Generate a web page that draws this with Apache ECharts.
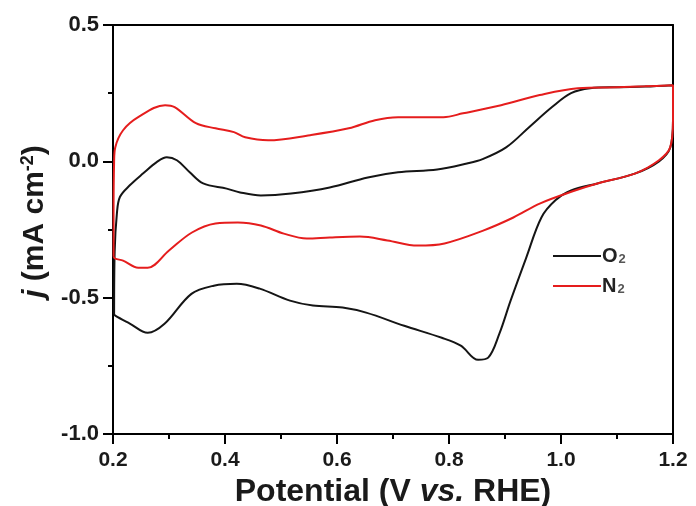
<!DOCTYPE html>
<html>
<head>
<meta charset="utf-8">
<script src="https://cdn.jsdelivr.net/npm/echarts@6/dist/echarts.min.js"></script>
<style>html,body{margin:0;padding:0;background:#fff}#c{width:696px;height:506px}</style>
</head>
<body>
<div id="c"></div>
<script>
// Potential (V vs. RHE) and current density j (mA cm-2), closed CV loops
var o2V = [0.202,0.203,0.207,0.2125,0.23,0.254,0.278,0.296,0.314,0.337,0.361,0.403,0.427,0.464,0.518,0.587,0.655,0.709,0.779,0.832,0.86,0.902,0.943,0.984,1.018,1.052,1.1,1.15,1.2,
           1.2,1.195,1.175,1.133,1.065,1.018,0.99,0.965,0.938,0.91,0.89,0.87,0.852,0.821,0.787,0.72,0.652,0.61,0.557,0.516,0.462,0.421,0.38,0.34,0.292,0.262,0.23,0.204,0.202];
var o2J = [-0.56,-0.33,-0.19,-0.13,-0.088,-0.044,-0.003,0.015,0.004,-0.04,-0.081,-0.1,-0.114,-0.125,-0.118,-0.096,-0.059,-0.04,-0.03,-0.008,0.008,0.051,0.125,0.199,0.25,0.268,0.272,0.274,0.279,
           0.15,0.05,0.0,-0.044,-0.081,-0.107,-0.143,-0.206,-0.353,-0.511,-0.632,-0.72,-0.728,-0.676,-0.647,-0.603,-0.555,-0.536,-0.529,-0.511,-0.467,-0.449,-0.456,-0.486,-0.596,-0.629,-0.595,-0.566,-0.56];
var n2V = [0.201,0.201,0.202,0.204,0.218,0.245,0.293,0.31,0.348,0.383,0.416,0.436,0.477,0.552,0.621,0.668,0.709,0.743,0.79,0.825,0.893,0.962,1.03,1.1,1.15,1.2,
           1.2,1.195,1.175,1.133,1.065,1.025,0.963,0.915,0.861,0.792,0.744,0.69,0.641,0.587,0.546,0.505,0.464,0.423,0.383,0.341,0.3,0.262,0.245,0.218,0.204,0.201];
var n2J = [-0.35,-0.2,0.0,0.051,0.114,0.162,0.206,0.199,0.14,0.121,0.107,0.088,0.077,0.096,0.121,0.151,0.162,0.162,0.162,0.176,0.206,0.243,0.268,0.272,0.275,0.279,
           0.151,0.051,0.004,-0.044,-0.081,-0.107,-0.154,-0.206,-0.254,-0.301,-0.309,-0.29,-0.276,-0.279,-0.283,-0.265,-0.235,-0.224,-0.228,-0.261,-0.327,-0.39,-0.39,-0.364,-0.357,-0.35];
var xTicks = [0.2, 0.4, 0.6, 0.8, 1.0, 1.2];
var yTicks = [-1.0, -0.5, 0.0, 0.5];

function zip(a, b) { return a.map(function (v, i) { return [v, b[i]]; }); }

var FONT = '"Liberation Sans", Arial, sans-serif';
var TXT = '#1a1a1a';
var chart = echarts.init(document.getElementById('c'), null, {renderer: 'canvas'});
chart.setOption({
  animation: false,
  backgroundColor: '#fff',
  grid: {left: 113, right: 23, top: 25, bottom: 72, containLabel: false, outerBoundsMode: 'none'},
  xAxis: [{
    type: 'value', min: 0.2, max: 1.2, interval: 0.2,
    name: 'Potential (V {i|vs.} RHE)', nameLocation: 'middle', nameGap: 36,
    nameTextStyle: {fontFamily: FONT, fontWeight: 'bold', fontSize: 32, color: TXT,
      rich: {i: {fontFamily: FONT, fontWeight: 'bold', fontStyle: 'italic', fontSize: 32, color: TXT}}},
    axisLine: {show: true, onZero: false, lineStyle: {color: '#000', width: 2}},
    axisTick: {show: true, inside: false, length: 10, lineStyle: {color: '#000', width: 2}},
    minorTick: {show: true, splitNumber: 2, length: 5, lineStyle: {color: '#000', width: 2}},
    splitLine: {show: false},
    axisLabel: {fontFamily: FONT, fontWeight: 'bold', fontSize: 21, color: TXT, margin: 16,
      formatter: function (v) { return v.toFixed(1); }}
  }, {
    type: 'value', position: 'top', min: 0.2, max: 1.2,
    axisLine: {show: true, onZero: false, lineStyle: {color: '#000', width: 2}},
    axisTick: {show: false}, axisLabel: {show: false}, splitLine: {show: false}
  }],
  yAxis: [{
    type: 'value', min: -1.0, max: 0.5, interval: 0.5,
    name: '{i|j} (mA cm{s|-2})', nameLocation: 'middle', nameGap: 60, nameRotate: 90,
    nameTextStyle: {fontFamily: FONT, fontWeight: 'bold', fontSize: 30, color: TXT, padding: [0, 0, 0, 16],
      rich: {
        i: {fontFamily: FONT, fontWeight: 'bold', fontStyle: 'italic', fontSize: 30, color: TXT},
        s: {fontFamily: FONT, fontWeight: 'bold', fontSize: 18, color: TXT, verticalAlign: 'top', padding: [0, 0, 14, 0]}
      }},
    axisLine: {show: true, onZero: false, lineStyle: {color: '#000', width: 2}},
    axisTick: {show: true, inside: false, length: 10, lineStyle: {color: '#000', width: 2}},
    minorTick: {show: true, splitNumber: 2, length: 5, lineStyle: {color: '#000', width: 2}},
    splitLine: {show: false},
    axisLabel: {fontFamily: FONT, fontWeight: 'bold', fontSize: 22, color: TXT, margin: 14,
      formatter: function (v) { return v.toFixed(1); }}
  }, {
    type: 'value', position: 'right', min: -1.0, max: 0.5,
    axisLine: {show: true, onZero: false, lineStyle: {color: '#000', width: 2}},
    axisTick: {show: false}, axisLabel: {show: false}, splitLine: {show: false}
  }],
  legend: {
    orient: 'vertical', left: 548, top: 241, itemWidth: 48, itemHeight: 14, itemGap: 10,
    icon: 'path://M0,6L48,6L48,8L0,8Z',
    data: ['O2', 'N2'],
    formatter: function (n) { return '{b|' + n.charAt(0) + '}{s|2}'; },
    textStyle: {padding: [0, 0, 0, -4], rich: {
      b: {fontFamily: FONT, fontWeight: 'bold', fontSize: 20, color: '#222'},
      s: {fontFamily: FONT, fontWeight: 'bold', fontSize: 13, color: '#555', verticalAlign: 'bottom', padding: [6, 0, 0, 1]}
    }}
  },
  series: [{
    name: 'O2', type: 'line', data: zip(o2V, o2J), showSymbol: false, smooth: 0.35,
    lineStyle: {color: '#151515', width: 2}, itemStyle: {color: '#151515'}
  }, {
    name: 'N2', type: 'line', data: zip(n2V, n2J), showSymbol: false, smooth: 0.35,
    lineStyle: {color: '#e51d1d', width: 2}, itemStyle: {color: '#e51d1d'}
  }]
});
</script>
</body>
</html>
